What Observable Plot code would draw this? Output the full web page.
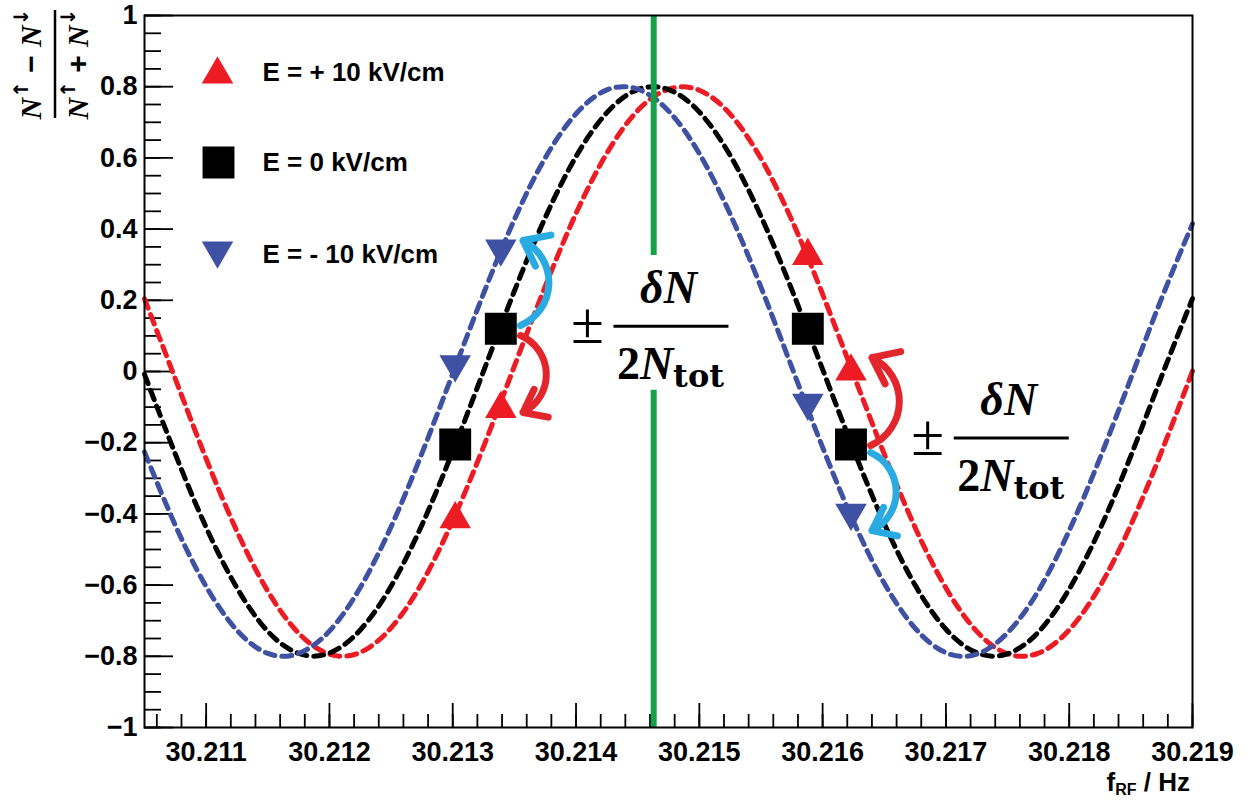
<!DOCTYPE html>
<html><head><meta charset="utf-8">
<script src="https://cdn.jsdelivr.net/npm/d3@7"></script>
<script src="https://cdn.jsdelivr.net/npm/@observablehq/plot@0.6"></script>
<style>body{margin:0;background:#fff;overflow:hidden;} #chart{width:1253px;height:802px;}</style>
</head><body><div id="chart"></div>
<script>
// ---- data ----
const freq = [30.2105, 30.21075, 30.211, 30.21125, 30.2115, 30.21175, 30.212, 30.21225, 30.2125, 30.21275,
  30.213, 30.21325, 30.2135, 30.21375, 30.214, 30.21425, 30.2145, 30.21475, 30.215, 30.21525,
  30.2155, 30.21575, 30.216, 30.21625, 30.2165, 30.21675, 30.217, 30.21725, 30.2175, 30.21775,
  30.218, 30.21825, 30.2185, 30.21875, 30.219];
const fitPlus = [0.204, -0.021, -0.245, -0.449, -0.617, -0.735, -0.794, -0.789, -0.720, -0.594,
  -0.419, -0.211, 0.015, 0.239, 0.444, 0.613, 0.733, 0.793, 0.790, 0.723,
  0.598, 0.425, 0.217, -0.008, -0.232, -0.438, -0.608, -0.730, -0.793, -0.791,
  -0.726, -0.603, -0.431, -0.224, 0.001];
const fitZero = [-0.008, -0.232, -0.438, -0.608, -0.730, -0.792, -0.791, -0.726, -0.603, -0.431,
  -0.224, 0.001, 0.226, 0.432, 0.604, 0.727, 0.792, 0.792, 0.729, 0.607,
  0.436, 0.230, 0.006, -0.219, -0.427, -0.600, -0.724, -0.790, -0.793, -0.732,
  -0.611, -0.442, -0.237, -0.013, 0.205];
const fitMinus = [-0.226, -0.432, -0.604, -0.727, -0.792, -0.792, -0.729, -0.607, -0.436, -0.230,
  -0.006, 0.219, 0.427, 0.600, 0.724, 0.791, 0.793, 0.732, 0.612, 0.442,
  0.237, 0.012, -0.213, -0.421, -0.595, -0.721, -0.790, -0.794, -0.734, -0.616,
  -0.447, -0.243, -0.019, 0.206, 0.415];

const markerFreq  = [30.21302, 30.21339, 30.21588, 30.21623];
const markerPlus  = [-0.415, -0.105, 0.325, 0.0];
const markerZero  = [-0.205, 0.12, 0.12, -0.205];
const markerMinus = [0.02, 0.345, -0.088, -0.397];

const legendLabels = ["E = + 10 kV/cm", "E = 0 kV/cm", "E = - 10 kV/cm"];
const xTickLabels = [30.211, 30.212, 30.213, 30.214, 30.215, 30.216, 30.217, 30.218, 30.219];
const yTickLabels = [-1, -0.8, -0.6, -0.4, -0.2, 0, 0.2, 0.4, 0.6, 0.8, 1];

const centerFreq = 30.21463;
const centerSegTop = [1, 0.326];
const centerSegBottom = [-0.053, -1];

const arrowX1 = [30.21355, 30.21355, 30.21639, 30.21639];
const arrowY1 = [0.129, 0.101, -0.208, -0.228];
const arrowX2 = [30.21357, 30.21357, 30.21640, 30.21640];
const arrowY2 = [0.368, -0.115, 0.039, -0.447];
const arrowKind = ["minus", "plus", "plus", "minus"];

const fracFreq = [30.21477, 30.21753];
const fracLevel = [0.126, -0.188];

// ---- styles ----
const RED = "#ed1c24", BLUE = "#3f51a3", BLACK = "#000000", GREEN = "#16a04a", CYAN = "#29abe2", ARED = "#e3262b";
const W = 1253, H = 802, mL = 144, mR = 61, mT = 15, mB = 75;
const pW = W - mL - mR, pH = H - mT - mB;

const triangleDown = {
  draw(context, size) {
    const y = -Math.sqrt(size / (Math.sqrt(3) * 3));
    context.moveTo(0, -y * 2);
    context.lineTo(-Math.sqrt(3) * y, y);
    context.lineTo(Math.sqrt(3) * y, y);
    context.closePath();
  }
};

const line = (vals) => freq.map((f, i) => ({f, v: vals[i]}));
const pts = (vals) => markerFreq.map((f, i) => ({f, v: vals[i]}));
const arrows = arrowX1.map((x1, i) => ({x1, y1: arrowY1[i], x2: arrowX2[i], y2: arrowY2[i], k: arrowKind[i]}));

const minorX = d3.range(0, 43).map(i => 30.2106 + i * 0.0002);
const minorY = d3.range(0, 41).map(i => -1 + i * 0.05);

const fmtY = d => (d < 0 ? "\u2212" : "") + (+Math.abs(d).toFixed(1));
const dash = {strokeWidth: 5, strokeDasharray: "10,7", curve: "natural"};
const arrowStyle = {x1: "x1", y1: "y1", x2: "x2", y2: "y2", strokeWidth: 7, headLength: 15, headAngle: 75};
const legendText = {frameAnchor: "top-left", dx: 118, text: d => d, textAnchor: "start", lineAnchor: "middle", fontSize: 26, fontWeight: "bold"};

const plot = Plot.plot({
  width: W, height: H,
  marginLeft: mL, marginRight: mR, marginTop: mT, marginBottom: mB,
  x: {domain: [30.2105, 30.219]},
  y: {domain: [-1, 1]},
  style: {fontFamily: "'Liberation Sans', Arial, sans-serif", color: "#000", background: "#fff"},
  marks: [
    Plot.tickX(minorX, {x: d => d, insetTop: pH - 13, stroke: "#000", strokeWidth: 1.8}),
    Plot.tickX(xTickLabels, {x: d => d, insetTop: pH - 24, stroke: "#000", strokeWidth: 1.8}),
    Plot.tickY(minorY, {y: d => d, insetRight: pW - 17, stroke: "#000", strokeWidth: 1.8}),
    Plot.tickY(yTickLabels, {y: d => d, insetRight: pW - 29, stroke: "#000", strokeWidth: 1.8}),
    Plot.axisX(xTickLabels, {tickSize: 0, tickPadding: 14, tickFormat: d3.format(".3f"), fontSize: 27, fontWeight: "bold", label: null}),
    Plot.axisY(yTickLabels, {tickSize: 0, tickPadding: 7, tickFormat: fmtY, fontSize: 27, fontWeight: "bold", label: null}),
    Plot.line(line(fitPlus), {x: "f", y: "v", stroke: RED, ...dash}),
    Plot.line(line(fitZero), {x: "f", y: "v", stroke: BLACK, ...dash}),
    Plot.line(line(fitMinus), {x: "f", y: "v", stroke: BLUE, ...dash}),
    Plot.ruleX([centerFreq], {x: d => d, y1: centerSegTop[0], y2: centerSegTop[1], stroke: GREEN, strokeWidth: 6}),
    Plot.ruleX([centerFreq], {x: d => d, y1: centerSegBottom[0], y2: centerSegBottom[1], stroke: GREEN, strokeWidth: 6}),
    Plot.dot(pts(markerPlus), {x: "f", y: "v", symbol: "triangle", r: 11.7, fill: RED}),
    Plot.dot(pts(markerZero), {x: "f", y: "v", symbol: "square", r: 18, fill: BLACK}),
    Plot.dot(pts(markerMinus), {x: "f", y: "v", symbol: triangleDown, r: 11.7, fill: BLUE}),
    Plot.arrow(arrows.filter(a => a.y2 > a.y1 && a.k === "minus"), {...arrowStyle, bend: -65, stroke: CYAN}),
    Plot.arrow(arrows.filter(a => a.y2 < a.y1 && a.k === "plus"), {...arrowStyle, bend: 65, stroke: ARED}),
    Plot.arrow(arrows.filter(a => a.y2 > a.y1 && a.k === "plus"), {...arrowStyle, bend: -65, stroke: ARED}),
    Plot.arrow(arrows.filter(a => a.y2 < a.y1 && a.k === "minus"), {...arrowStyle, bend: 65, stroke: CYAN}),
    // legend
    Plot.dot([legendLabels[0]], {frameAnchor: "top-left", dx: 73, dy: 59, symbol: "triangle", r: 11.7, fill: RED}),
    Plot.dot([legendLabels[1]], {frameAnchor: "top-left", dx: 74, dy: 147, symbol: "square", r: 18, fill: BLACK}),
    Plot.dot([legendLabels[2]], {frameAnchor: "top-left", dx: 73, dy: 235, symbol: triangleDown, r: 11.7, fill: BLUE}),
    Plot.text([legendLabels[0]], {...legendText, dy: 57}),
    Plot.text([legendLabels[1]], {...legendText, dy: 147}),
    Plot.text([legendLabels[2]], {...legendText, dy: 239}),
    Plot.frame({stroke: "#000", strokeWidth: 2})
  ]
});
document.getElementById("chart").appendChild(plot);

const svg = d3.select(plot);
const sx = d3.scaleLinear().domain([30.2105, 30.219]).range([mL, W - mR]);
const sy = d3.scaleLinear().domain([-1, 1]).range([H - mB, mT]);

// ± δN / 2N_tot annotations
fracFreq.forEach((f, i) => {
  const g = svg.append("g").attr("transform", `translate(${sx(f)},${sy(fracLevel[i])})`);
  g.append("text").attr("x", -83).attr("y", 17).attr("text-anchor", "middle")
    .style("font", "normal 60px 'Liberation Serif'").text("\u00b1");
  g.append("line").attr("x1", -57).attr("x2", 58).attr("y1", 0).attr("y2", 0).attr("stroke", "#000").attr("stroke-width", 3);
  g.append("text").attr("x", -2).attr("y", -23).attr("text-anchor", "middle")
    .style("font", "bold italic 46px 'Liberation Serif'").text("\u03b4N");
  const t2 = g.append("text").attr("x", 0).attr("y", 53).attr("text-anchor", "middle")
    .style("font", "bold 46px 'Liberation Serif'");
  t2.append("tspan").text("2");
  t2.append("tspan").style("font-style", "italic").text("N");
  t2.append("tspan").attr("dy", 8).style("font-size", "32px").style("font-family", "'DejaVu Serif'").text("tot");
});

// y-axis title (rotated fraction)
const gt = svg.append("g").attr("transform", "translate(55,64) rotate(-90)");
gt.append("line").attr("x1", -54).attr("x2", 54).attr("y1", 0).attr("y2", 0).attr("stroke", "#000").attr("stroke-width", 2.5);
function frTerm(y, op) {
  const t = gt.append("text").attr("x", 0).attr("y", y).attr("text-anchor", "middle")
    .style("font", "bold italic 30px 'Liberation Serif'");
  t.append("tspan").text("N");
  t.append("tspan").attr("dy", -13).style("font-size", "20px").style("font-style", "normal").style("font-family", "'DejaVu Sans'").text("\u2191");
  t.append("tspan").attr("dy", 13).style("font-style", "normal").style("font-family", "'Liberation Sans'").text(" " + op + " ");
  t.append("tspan").text("N");
  t.append("tspan").attr("dy", -13).style("font-size", "20px").style("font-style", "normal").style("font-family", "'DejaVu Sans'").text("\u2193");
}
frTerm(-14, "\u2212");
frTerm(33, "+");

// x-axis title
const xt = svg.append("text").attr("x", 1190).attr("y", 791).attr("text-anchor", "end")
  .style("font", "bold 26px 'Liberation Sans'");
xt.append("tspan").text("f");
xt.append("tspan").attr("dy", 4).style("font-size", "16px").text("RF");
xt.append("tspan").attr("dy", -4).text(" / Hz");
</script>
</body></html>
